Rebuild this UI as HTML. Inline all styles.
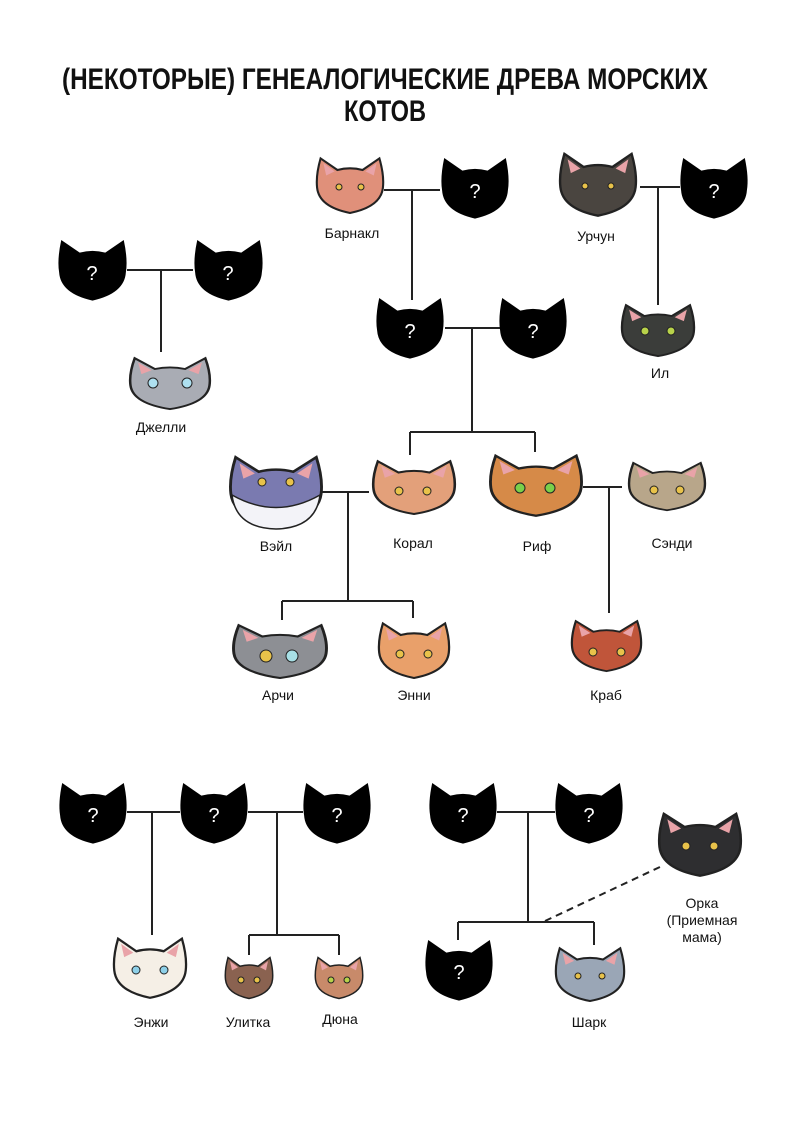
<!DOCTYPE html>
<html><head><meta charset="utf-8"><style>
html,body{margin:0;padding:0;background:#fff;}
svg{display:block;}
text{font-family:"Liberation Sans",sans-serif;}
</style></head><body>
<svg width="800" height="1131" viewBox="0 0 800 1131" xmlns="http://www.w3.org/2000/svg">
<defs>
<symbol id="h" viewBox="0 0 100 88" preserveAspectRatio="none">
<path d="M6,0 L32,18 Q50,13 68,18 L94,0 Q100,28 97,46 Q95,76 50,86 Q5,76 3,46 Q0,28 6,0 Z"/>
</symbol>
<symbol id="c" viewBox="0 0 100 88" preserveAspectRatio="none">
<path d="M8,5 L32,22 Q50,17 68,22 L92,5 Q99,30 97,48 Q94,76 50,85 Q6,76 3,48 Q1,30 8,5 Z" stroke="#222" stroke-width="3"/>
<path d="M12,12 L28,24 L16,30 Z M88,12 L72,24 L84,30 Z" fill="#e9a3a8"/>
</symbol>
</defs>
<rect width="800" height="1131" fill="#fff"/>
<text x="385" y="89" font-size="30" font-weight="bold" text-anchor="middle" textLength="646" lengthAdjust="spacingAndGlyphs" fill="#111">(НЕКОТОРЫЕ) ГЕНЕАЛОГИЧЕСКИЕ ДРЕВА МОРСКИХ</text>
<text x="385" y="121" font-size="30" font-weight="bold" text-anchor="middle" textLength="82" lengthAdjust="spacingAndGlyphs" fill="#111">КОТОВ</text>

<g stroke="#222" stroke-width="2" fill="none">
<path d="M127,270H193M161,270V352"/>
<path d="M384,190H440M412,190V300"/>
<path d="M640,187H680M658,187V305"/>
<path d="M445,328H500M472,328V432M410,432H535M410,432V455M535,432V452"/>
<path d="M320,492H369M348,492V601M282,601H413M282,601V620M413,601V618"/>
<path d="M583,487H622M609,487V613"/>
<path d="M127,812H180M152,812V935"/>
<path d="M248,812H303M277,812V935M249,935H339M249,935V955M339,935V955"/>
<path d="M497,812H555M528,812V922M458,922H594M458,922V940M594,922V945"/>
<path d="M545,921L662,866" stroke-dasharray="7,5"/>
</g>

<g fill="#000">
<use href="#h" x="57" y="240" width="71" height="62"/>
<use href="#h" x="193" y="240" width="71" height="62"/>
<use href="#h" x="440" y="158" width="70" height="62"/>
<use href="#h" x="679" y="158" width="70" height="62"/>
<use href="#h" x="375" y="298" width="70" height="62"/>
<use href="#h" x="498" y="298" width="70" height="62"/>
<use href="#h" x="58" y="783" width="70" height="62"/>
<use href="#h" x="179" y="783" width="70" height="62"/>
<use href="#h" x="302" y="783" width="70" height="62"/>
<use href="#h" x="428" y="783" width="70" height="62"/>
<use href="#h" x="554" y="783" width="70" height="62"/>
<use href="#h" x="424" y="940" width="70" height="62"/>
</g>
<g fill="#fff" font-size="20" text-anchor="middle">
<text x="92" y="280">?</text><text x="228" y="280">?</text>
<text x="475" y="198">?</text><text x="714" y="198">?</text>
<text x="410" y="338">?</text><text x="533" y="338">?</text>
<text x="93" y="822">?</text><text x="214" y="822">?</text><text x="337" y="822">?</text>
<text x="463" y="822">?</text><text x="589" y="822">?</text><text x="459" y="979">?</text>
</g>

<use href="#c" x="315" y="155" width="70" height="60" fill="#e0907a"/>
<use href="#c" x="558" y="150" width="80" height="68" fill="#4a4540"/>
<use href="#c" x="620" y="302" width="76" height="56" fill="#3b3d3a"/>
<use href="#c" x="128" y="355" width="84" height="56" fill="#a9acb4"/>
<use href="#c" x="228" y="453" width="96" height="75" fill="#7a7ab0"/>
<path d="M232,495 Q276,520 320,495 Q316,528 276,529 Q236,528 232,495Z" fill="#f3f3f8" stroke="#222" stroke-width="1.5"/>
<use href="#c" x="371" y="458" width="86" height="58" fill="#e3a07a"/>
<use href="#c" x="488" y="452" width="96" height="66" fill="#d68a48"/>
<use href="#c" x="627" y="460" width="80" height="52" fill="#b8a68a"/>
<use href="#c" x="231" y="622" width="98" height="58" fill="#8d8f94"/>
<use href="#c" x="377" y="620" width="74" height="60" fill="#e9a06a"/>
<use href="#c" x="570" y="618" width="73" height="55" fill="#c0553a"/>
<use href="#c" x="657" y="810" width="86" height="68" fill="#2e2e30"/>
<use href="#c" x="112" y="935" width="76" height="65" fill="#f5efe6"/>
<use href="#c" x="224" y="955" width="50" height="45" fill="#8a6250"/>
<use href="#c" x="314" y="955" width="50" height="45" fill="#c88a6a"/>
<use href="#c" x="554" y="945" width="72" height="58" fill="#9aa6b6"/>
<g fill="#e8c24a" stroke="#222" stroke-width="1">
<circle cx="339" cy="187" r="3"/><circle cx="361" cy="187" r="3"/>
<circle cx="585" cy="186" r="3"/><circle cx="611" cy="186" r="3"/>
<circle cx="645" cy="331" r="4" fill="#b8d24a"/><circle cx="671" cy="331" r="4" fill="#b8d24a"/>
<circle cx="153" cy="383" r="5" fill="#aee0f0"/><circle cx="187" cy="383" r="5" fill="#aee0f0"/>
<circle cx="262" cy="482" r="4"/><circle cx="290" cy="482" r="4"/>
<circle cx="399" cy="491" r="4"/><circle cx="427" cy="491" r="4"/>
<circle cx="520" cy="488" r="5" fill="#7ad04a"/><circle cx="550" cy="488" r="5" fill="#7ad04a"/>
<circle cx="654" cy="490" r="4"/><circle cx="680" cy="490" r="4"/>
<circle cx="266" cy="656" r="6"/><circle cx="292" cy="656" r="6" fill="#a8e0e6"/>
<circle cx="400" cy="654" r="4"/><circle cx="428" cy="654" r="4"/>
<circle cx="593" cy="652" r="4"/><circle cx="621" cy="652" r="4"/>
<circle cx="686" cy="846" r="4"/><circle cx="714" cy="846" r="4"/>
<circle cx="136" cy="970" r="4" fill="#8ed0e8"/><circle cx="164" cy="970" r="4" fill="#8ed0e8"/>
<circle cx="241" cy="980" r="3"/><circle cx="257" cy="980" r="3"/>
<circle cx="331" cy="980" r="3" fill="#b8d24a"/><circle cx="347" cy="980" r="3" fill="#b8d24a"/>
<circle cx="578" cy="976" r="3"/><circle cx="602" cy="976" r="3"/>
</g>

<g font-size="14" text-anchor="middle" fill="#111">
<text x="352" y="238">Барнакл</text>
<text x="596" y="241">Урчун</text>
<text x="660" y="378">Ил</text>
<text x="161" y="432">Джелли</text>
<text x="276" y="551">Вэйл</text>
<text x="413" y="548">Корал</text>
<text x="537" y="551">Риф</text>
<text x="672" y="548">Сэнди</text>
<text x="278" y="700">Арчи</text>
<text x="414" y="700">Энни</text>
<text x="606" y="700">Краб</text>
<text x="702" y="908">Орка</text>
<text x="702" y="925">(Приемная</text>
<text x="702" y="942">мама)</text>
<text x="151" y="1027">Энжи</text>
<text x="248" y="1027">Улитка</text>
<text x="340" y="1024">Дюна</text>
<text x="589" y="1027">Шарк</text>
</g>
</svg>
</body></html>
